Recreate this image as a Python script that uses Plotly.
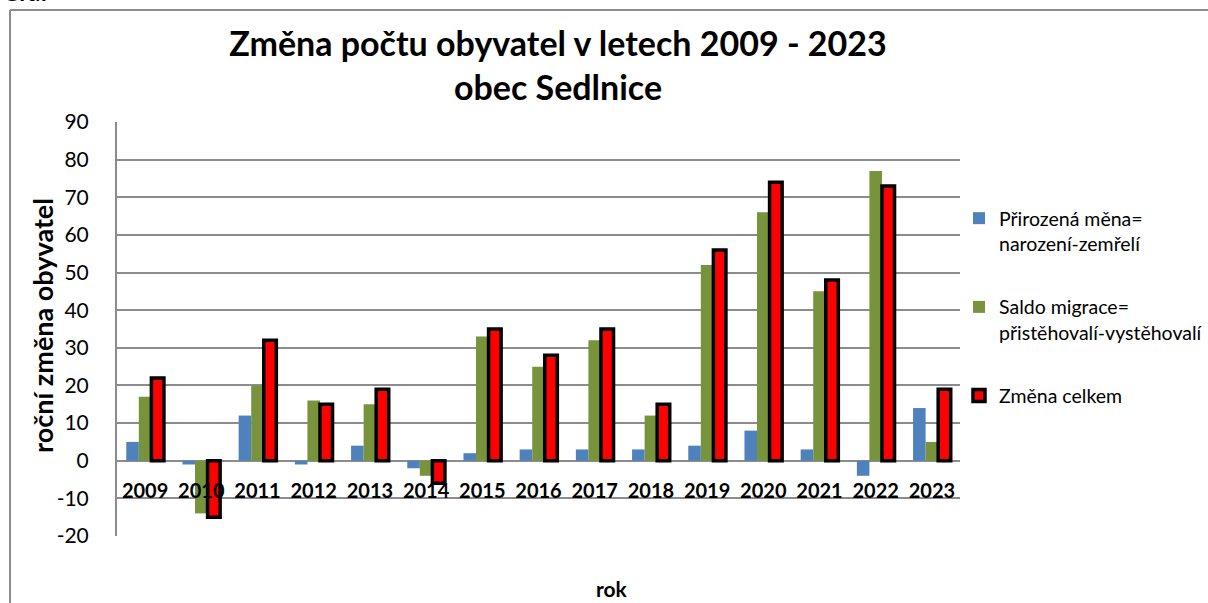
import plotly.graph_objects as go

# data
years = ["2009", "2010", "2011", "2012", "2013", "2014", "2015", "2016",
         "2017", "2018", "2019", "2020", "2021", "2022", "2023"]
natural_change = [5, -1, 12, -1, 4, -2, 2, 3, 3, 3, 4, 8, 3, -4, 14]
migration_balance = [17, -14, 20, 16, 15, -4, 33, 25, 32, 12, 52, 66, 45, 77, 5]
total_change = [22, -15, 32, 15, 19, -6, 35, 28, 35, 15, 56, 74, 48, 73, 19]

y_ticks = list(range(-20, 100, 10))
y_tick_text = [str(v) for v in y_ticks]  # plain hyphen minus like the original

FONT = "Lato"
GRID = "#8c8c8c"

# plot area in pixels (figure 1208 x 603)
W, H = 1208, 603
L, R, T, B = 117, 248, 122, 67
pw, ph = W - L - R, H - T - B


def px_x(x):
    return (x - L) / pw


def px_y(y):
    return (H - B - y) / ph


fig = go.Figure()
fig.add_trace(go.Bar(
    x=years, y=natural_change,
    name="Přirozená měna=<br>narození-zemřelí",
    legendgroup="a",
    marker=dict(color="#4F81BD", line=dict(width=0)),
))
fig.add_trace(go.Bar(
    x=years, y=migration_balance,
    name="Saldo migrace=<br>přistěhovalí-vystěhovalí",
    legendgroup="b",
    marker=dict(color="#77933C", line=dict(width=0)),
))
fig.add_trace(go.Bar(
    x=years, y=total_change,
    name="Změna celkem",
    legendgroup="c",
    marker=dict(color="#FF0000", line=dict(color="black", width=3.5)),
))

fig.update_layout(
    width=W, height=H,
    margin=dict(l=L, r=R, t=T, b=B, autoexpand=False),
    paper_bgcolor="white",
    plot_bgcolor="white",
    font=dict(family=FONT, color="black"),
    barmode="group",
    bargap=0.33,
    bargroupgap=0,
    title=dict(
        text="<b>Změna počtu obyvatel v letech 2009 - 2023<br>obec Sedlnice</b>",
        x=558 / W, xanchor="center",
        y=1 - 56 / H, yanchor="middle",
        font=dict(family=FONT, size=34, color="black"),
    ),
    legend=dict(
        x=px_x(959), y=px_y(199),
        xanchor="left", yanchor="top",
        font=dict(family=FONT, size=19.5, color="black"),
        valign="top",
        tracegroupgap=35,
        traceorder="grouped",
        bgcolor="rgba(0,0,0,0)",
        itemwidth=30,
    ),
    showlegend=True,
)

fig.update_xaxes(
    type="category",
    anchor="free",
    position=px_y(477),
    showgrid=False,
    showline=False,
    ticks="",
    tickfont=dict(family=FONT, size=20, color="black", weight="bold"),
)

fig.update_yaxes(
    range=[-20, 90],
    tickvals=y_ticks,
    ticktext=y_tick_text,
    showgrid=True,
    gridcolor=GRID,
    gridwidth=2,
    zeroline=True,
    zerolinecolor=GRID,
    zerolinewidth=2,
    showline=True,
    linecolor=GRID,
    linewidth=2,
    ticks="",
    ticklabelstandoff=22,
    tickfont=dict(family=FONT, size=21, color="black"),
)

# y axis title
fig.add_annotation(
    text="<b>roční změna obyvatel</b>", xref="paper", yref="paper",
    x=px_x(42), y=px_y(326), xanchor="center", yanchor="middle",
    textangle=-90, showarrow=False,
    font=dict(family=FONT, size=27, color="black"),
)

# x axis title below the chart
fig.add_annotation(
    text="<b>rok</b>", xref="paper", yref="paper",
    x=px_x(612), y=px_y(588), xanchor="center", yanchor="middle",
    showarrow=False, font=dict(family=FONT, size=21, color="black"),
)

# partially visible caption above the chart box
fig.add_annotation(
    text="<b>Graf</b>", xref="paper", yref="paper",
    x=px_x(0), y=px_y(-8), xanchor="left", yanchor="middle",
    showarrow=False, font=dict(family=FONT, size=24, color="black"),
)

# chart area border (left and top edges visible in the crop)
border = dict(color="#8c8c8c", width=2)
fig.add_shape(type="line", xref="paper", yref="paper",
              x0=px_x(10), x1=px_x(10), y0=px_y(10), y1=px_y(640),
              line=border, layer="below")
fig.add_shape(type="line", xref="paper", yref="paper",
              x0=px_x(10), x1=px_x(1240), y0=px_y(10), y1=px_y(10),
              line=border, layer="below")

# drop the default 8px page margin so the figure sits at the window origin
fig.write_html(
    "out.html",
    config={"displayModeBar": False},
    post_script="document.body.style.margin='0';document.body.style.overflow='hidden';",
)
